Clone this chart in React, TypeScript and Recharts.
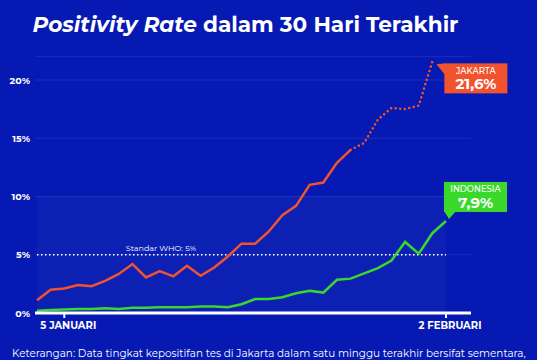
import React from "react";
import {
  ComposedChart,
  Line,
  XAxis,
  YAxis,
  CartesianGrid,
  ReferenceLine,
  ReferenceArea,
} from "recharts";

// tanggal 3 Jan - 2 Feb
const dates = [
  "3 Jan", "4 Jan", "5 Jan", "6 Jan", "7 Jan", "8 Jan", "9 Jan", "10 Jan",
  "11 Jan", "12 Jan", "13 Jan", "14 Jan", "15 Jan", "16 Jan", "17 Jan",
  "18 Jan", "19 Jan", "20 Jan", "21 Jan", "22 Jan", "23 Jan", "24 Jan",
  "25 Jan", "26 Jan", "27 Jan", "28 Jan", "29 Jan", "30 Jan", "31 Jan",
  "1 Feb", "2 Feb",
];

// positivity rate Jakarta (%), data sementara mulai index 23
const jakarta = [
  1.1, 2.0, 2.1, 2.4, 2.3, 2.75, 3.35, 4.2, 3.05, 3.6, 3.15, 4.05, 3.2, 3.9,
  4.85, 5.95, 5.95, 7.0, 8.4, 9.2, 11.0, 11.2, 12.9, 14.0, 14.6, 16.6, 17.6,
  17.5, 17.8, 21.6,
];
const provisionalFrom = 23;

// positivity rate Indonesia (%)
const indonesia = [
  0.2, 0.25, 0.3, 0.35, 0.35, 0.4, 0.35, 0.45, 0.45, 0.5, 0.5, 0.5, 0.55,
  0.55, 0.5, 0.75, 1.2, 1.2, 1.35, 1.7, 1.9, 1.75, 2.85, 2.95, 3.4, 3.85, 4.5,
  6.1, 5.1, 6.85, 7.9,
];

const yTicks = [0, 5, 10, 15, 20];
const xTicks = ["5 Jan", "2 Feb"];
const xTickLabels = ["5 JANUARI", "2 FEBRUARI"];
const whoStandard = 5;

const BG = "#0619b2";
const RED = "#f0532e";
const GREEN = "#3ad82a";
const FONT = "Montserrat, 'Open Sans', sans-serif";

const data = dates.map((date, i) => ({
  date,
  jakarta: i <= provisionalFrom ? jakarta[i] : null,
  jakartaSementara:
    i >= provisionalFrom && i < jakarta.length ? jakarta[i] : null,
  indonesia: indonesia[i],
}));

const YTick = ({ y, payload }: any) => (
  <text
    x={30}
    y={y}
    dy={3.5}
    textAnchor="end"
    fill="#fff"
    fontFamily={FONT}
    fontWeight={700}
    fontSize={9.5}
  >
    {payload.value}%
  </text>
);

const XTick = ({ x, payload }: any) => (
  <text
    x={x + 4}
    y={328.5}
    textAnchor="middle"
    fill="#fff"
    fontFamily={FONT}
    fontWeight={700}
    fontSize={10}
  >
    {xTickLabels[xTicks.indexOf(payload.value)]}
  </text>
);

// kotak label di ujung garis
const JakartaCallout = ({ x, y, index }: any) => {
  if (index !== jakarta.length - 1) return null;
  const bx = x + 12;
  const by = y + 2;
  return (
    <g>
      <polygon points={`${x + 4},${y + 3} ${bx + 1},${by} ${bx + 1},${by + 12}`} fill={RED} />
      <rect x={bx} y={by} width={63} height={30} fill={RED} />
      <text x={bx + 31.5} y={by + 10.5} textAnchor="middle" fill="#fff" fontFamily={FONT} fontWeight={500} fontSize={8.5}>
        JAKARTA
      </text>
      <text x={bx + 31.5} y={by + 26} textAnchor="middle" fill="#fff" fontFamily={FONT} fontWeight={700} fontSize={15}>
        {String(jakarta[jakarta.length - 1]).replace(".", ",")}%
      </text>
    </g>
  );
};

const IndonesiaCallout = ({ x, y, index }: any) => {
  if (index !== indonesia.length - 1) return null;
  const bx = x - 2;
  const by = y - 39;
  return (
    <g>
      <polygon points={`${bx},${by + 29} ${bx + 12},${by + 29} ${x + 3},${y - 2}`} fill={GREEN} />
      <rect x={bx} y={by} width={63} height={30} fill={GREEN} />
      <text x={bx + 31.5} y={by + 10.5} textAnchor="middle" fill="#fff" fontFamily={FONT} fontWeight={500} fontSize={8.5}>
        INDONESIA
      </text>
      <text x={bx + 31.5} y={by + 26} textAnchor="middle" fill="#fff" fontFamily={FONT} fontWeight={700} fontSize={15}>
        {String(indonesia[indonesia.length - 1]).replace(".", ",")}%
      </text>
    </g>
  );
};

const WhoLabel = ({ viewBox }: any) => (
  <text
    x={viewBox.x + 124}
    y={viewBox.y - 4}
    textAnchor="middle"
    fill="#fff"
    fontFamily={FONT}
    fontSize={8}
  >
    Standar WHO: {whoStandard}%
  </text>
);

export default function App() {
  return (
    <div
      style={{
        position: "absolute",
        left: 0,
        top: 0,
        width: 537,
        height: 360,
        background: BG,
        overflow: "hidden",
      }}
    >
      <ComposedChart
        width={537}
        height={360}
        data={data}
        margin={{ top: 56.7, right: 66, bottom: 17, left: 5 }}
      >
        <CartesianGrid vertical={false} stroke="#1a2ebe" strokeWidth={1} />
        <ReferenceArea
          x1={dates[0]}
          x2={dates[dates.length - 1]}
          y1={0}
          y2={10}
          fill="#ffffff"
          fillOpacity={0.03}
          stroke="none"
        />
        <XAxis
          dataKey="date"
          type="category"
          ticks={xTicks}
          interval={0}
          padding={{ left: 2, right: 25 }}
          height={30}
          axisLine={{ stroke: "#fff", strokeWidth: 3 }}
          tickLine={{ stroke: "#fff", strokeWidth: 2 }}
          tickSize={5}
          tick={<XTick />}
        />
        <YAxis
          domain={[0, 22]}
          ticks={yTicks}
          width={30}
          axisLine={false}
          tickLine={false}
          tick={<YTick />}
        />
        <ReferenceLine
          segment={[
            { x: dates[0], y: whoStandard },
            { x: dates[dates.length - 1], y: whoStandard },
          ]}
          stroke="#fff"
          strokeWidth={1.5}
          strokeDasharray="1.5 2.5"
          label={<WhoLabel />}
        />
        <Line
          dataKey="indonesia"
          type="linear"
          stroke={GREEN}
          strokeWidth={2.5}
          dot={false}
          label={<IndonesiaCallout />}
          isAnimationActive={false}
        />
        <Line
          dataKey="jakarta"
          type="linear"
          stroke={RED}
          strokeWidth={2.5}
          dot={false}
          isAnimationActive={false}
        />
        <Line
          dataKey="jakartaSementara"
          type="linear"
          stroke={RED}
          strokeWidth={2.5}
          strokeDasharray="0.1 4.5"
          strokeLinecap="round"
          dot={false}
          label={<JakartaCallout />}
          isAnimationActive={false}
        />
      </ComposedChart>
      <svg
        width={537}
        height={360}
        style={{ position: "absolute", left: 0, top: 0, pointerEvents: "none" }}
      >
        <text
          x={245.5}
          y={32}
          textAnchor="middle"
          fill="#fff"
          fontFamily={FONT}
          fontWeight={700}
          fontSize={21.6}
        >
          <tspan fontStyle="italic">Positivity Rate</tspan> dalam 30 Hari Terakhir
        </text>
        <text x={12} y={357} fill="#fff" fontFamily={FONT} fontSize={10.4}>
          Keterangan: Data tingkat kepositifan tes di Jakarta dalam satu minggu terakhir bersifat sementara,
        </text>
      </svg>
    </div>
  );
}
